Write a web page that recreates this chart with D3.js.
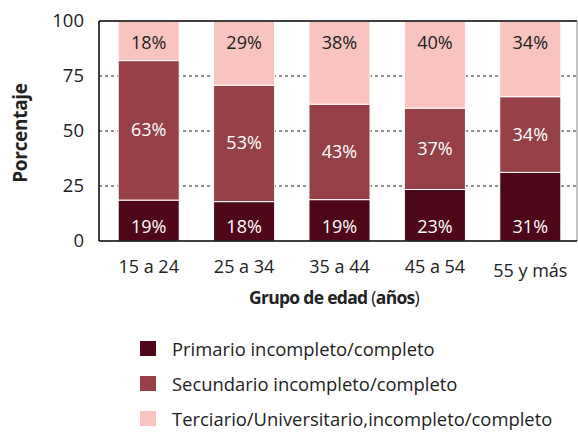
<!DOCTYPE html>
<html><head><meta charset="utf-8">
<script src="https://cdn.jsdelivr.net/npm/d3@7"></script>
<style>body{margin:0;background:#fff;} text{font-family:"Open Sans","Noto Sans",sans-serif;}</style>
</head><body>
<svg id="c" width="578" height="432"></svg>
<script>
const categories = ["15 a 24","25 a 34","35 a 44","45 a 54","55 y más"];
const primario   = [18.6, 17.9, 18.8, 23.4, 31.2];
const secundario = [63.4, 52.9, 43.4, 37.0, 34.4];
const terciario  = [18.0, 29.2, 37.8, 39.6, 34.4];
const seriesNames = ["Primario incompleto/completo","Secundario incompleto/completo","Terciario/Universitario,incompleto/completo"];
const yTicks = [0,25,50,75,100];

(function(){
const colors = ["#4e0718","#964048","#f9c4c0"];
const labelColors = ["#ffffff","#ffffff","#222222"];
const svg = d3.select("#c");
const pL = 99, pR = 577, pT = 21, pB = 241;

const x = d3.scaleBand().domain(categories).range([101, 578]).paddingInner(0.36).paddingOuter(0.18);
const y = d3.scaleLinear().domain([0,100]).range([pB, pT]);

const data = categories.map((c,i)=>({cat:c, p:primario[i], s:secundario[i], t:terciario[i]}));
const stack = d3.stack().keys(["p","s","t"])(data);

// grid
svg.append("g").selectAll("line").data([25,50,75]).join("line")
  .attr("x1",pL).attr("x2",pR).attr("y1",d=>y(d)).attr("y2",d=>y(d))
  .attr("stroke","#222").attr("stroke-width",1).attr("stroke-dasharray","3,3");

// bars
const g = svg.append("g");
stack.forEach((layer,li)=>{
  g.append("g").selectAll("rect").data(layer).join("rect")
    .attr("x",d=>x(d.data.cat)).attr("width",x.bandwidth())
    .attr("y",d=>y(d[1])).attr("height",d=>y(d[0])-y(d[1]))
    .attr("fill",colors[li]).attr("stroke","#fff").attr("stroke-width",1);
});
// labels
stack.forEach((layer,li)=>{
  g.append("g").selectAll("text").data(layer).join("text")
    .attr("x",d=>x(d.data.cat)+x.bandwidth()/2)
    .attr("y",d=> li===2 ? y(100)+28 : (li===1 ? y(d[0]+ (d[1]-d[0])*0.5)+ 6 : y(d[0]) - 8))
    .attr("text-anchor","middle").attr("font-size",18).attr("fill",labelColors[li])
    .text(d=>Math.round(d[1]-d[0])+"%");
});

// frame
svg.append("line").attr("x1",pL).attr("x2",pR).attr("y1",pT).attr("y2",pT).attr("stroke","#000").attr("stroke-width",1.5);
svg.append("line").attr("x1",pR).attr("x2",pR).attr("y1",pT).attr("y2",pB).attr("stroke","#888").attr("stroke-width",1);
svg.append("line").attr("x1",pL).attr("x2",pR).attr("y1",pB).attr("y2",pB).attr("stroke","#000").attr("stroke-width",1.5);
svg.append("line").attr("x1",pL).attr("x2",pL).attr("y1",pT).attr("y2",pB).attr("stroke","#000").attr("stroke-width",1.5);

// y axis
const ya = svg.append("g").attr("transform",`translate(${pL},0)`)
  .call(d3.axisLeft(y).tickValues(yTicks).tickSize(0).tickPadding(15).tickFormat(d3.format("d")));
ya.select(".domain").remove();
ya.selectAll("text").attr("font-size",18.5).attr("fill","#222").attr("font-family","Open Sans, sans-serif");

// x axis
const xa = svg.append("g").attr("transform",`translate(0,${pB})`)
  .call(d3.axisBottom(x).tickSize(0).tickPadding(19));
xa.select(".domain").remove();
xa.selectAll("text").attr("font-size",18).attr("fill","#222").attr("font-family","Open Sans, sans-serif")
  .attr("dy",(d,i)=> i===categories.length-1 ? "0.95em" : "0.71em");

// titles
svg.append("text").attr("transform","translate(27,133) rotate(-90)").attr("text-anchor","middle")
  .attr("font-size",19).attr("font-weight","bold").attr("fill","#222").attr("letter-spacing",-0.3).text("Porcentaje");
const xt = svg.append("text").attr("x",334).attr("y",304).attr("text-anchor","middle").attr("font-size",17.5)
  .attr("fill","#222").attr("letter-spacing",-0.7);
xt.append("tspan").attr("font-weight","bold").text("Grupo de edad ");
xt.append("tspan").text("(");
xt.append("tspan").attr("font-weight","bold").text("años");
xt.append("tspan").text(")");

// legend
const lg = svg.append("g").selectAll("g").data(seriesNames).join("g")
  .attr("transform",(d,i)=>`translate(140,${341+i*35})`);
lg.append("rect").attr("width",16).attr("height",15).attr("fill",(d,i)=>colors[i]);
lg.append("text").attr("x",32).attr("y",14.5).attr("font-size",18.4).attr("fill","#222").text(d=>d);
})();
</script>
</body></html>
